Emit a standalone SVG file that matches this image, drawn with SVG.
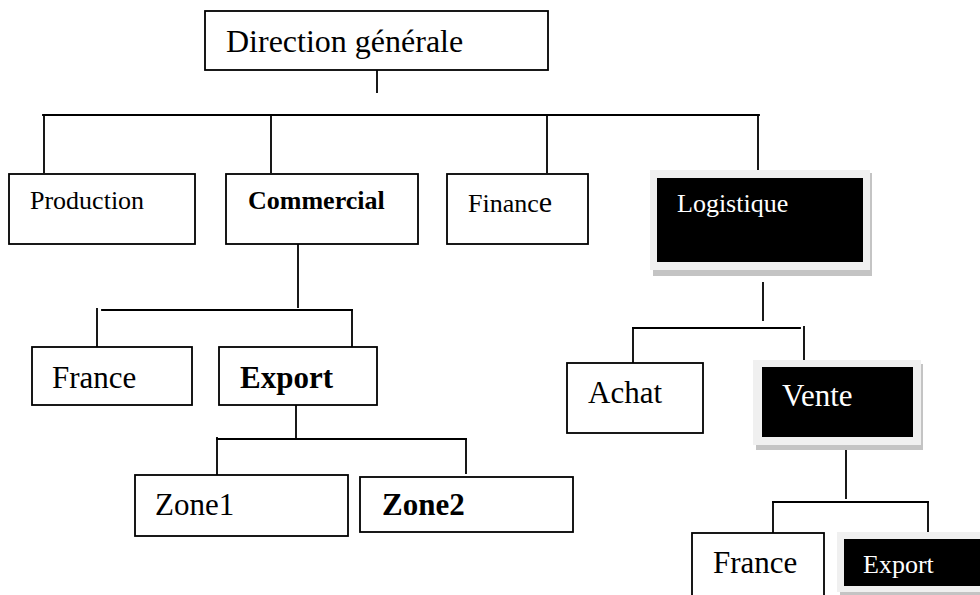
<svg xmlns="http://www.w3.org/2000/svg" width="980" height="595" viewBox="0 0 980 595">
  <style>
    .box { fill: #ffffff; stroke: #000000; stroke-width: 1.8; }
    .frame { fill: #f0f0f0; }
    .shadow { fill: #c4c4c4; }
    .dark { fill: #000000; }
    .line { stroke: #000000; stroke-width: 1.8; fill: none; stroke-linecap: square; }
    text { font-family: "Liberation Serif", "Times New Roman", serif; fill: #000000; }
    .lt { fill: #ffffff; }
    .b { font-weight: bold; }
    .s25 { font-size: 26px; }
    .s31 { font-size: 31px; }
  </style>

  <!-- connectors -->
  <g id="connectors">
    <!-- Direction générale to first level -->
    <path class="line" d="M377 71 V92"/>
    <path class="line" d="M43 115 H759"/>
    <path class="line" d="M44 115 V172 M271 115 V172 M547 115 V172 M758 115 V171"/>
    <!-- Commercial to France / Export -->
    <path class="line" d="M298 245 V307"/>
    <path class="line" d="M102 310 H352"/>
    <path class="line" d="M97 309 V346 M352 310 V346"/>
    <!-- Export to Zone1 / Zone2 -->
    <path class="line" d="M296 406 V437"/>
    <path class="line" d="M217 439 H466"/>
    <path class="line" d="M217 438 V474 M466 439 V473"/>
    <!-- Logistique to Achat / Vente -->
    <path class="line" d="M763 283 V320"/>
    <path class="line" d="M633 328 H800"/>
    <path class="line" d="M633 328 V362 M804 327 V363"/>
    <!-- Vente to France / Export -->
    <path class="line" d="M846 449 V498"/>
    <path class="line" d="M773 502 H928"/>
    <path class="line" d="M773 502 V532 M928 502 V532"/>
  </g>

  <g id="direction">
    <rect class="box" x="205" y="11" width="343" height="59"/>
    <text x="226" y="52" font-size="32">Direction générale</text>
  </g>

  <g id="production">
    <rect class="box" x="9" y="174" width="186" height="70"/>
    <text class="s25" x="30" y="209">Production</text>
  </g>

  <g id="commercial">
    <rect class="box" x="226" y="174" width="192" height="70"/>
    <text class="s25 b" x="248" y="209">Commercial</text>
  </g>

  <g id="finance">
    <rect class="box" x="447" y="174" width="141" height="70"/>
    <text x="468" y="212"><tspan font-size="26">Financ</tspan><tspan font-size="30">e</tspan></text>
  </g>

  <g id="logistique">
    <rect class="shadow" x="653" y="173" width="219" height="103"/>
    <rect class="frame" x="650" y="170" width="220" height="100"/>
    <rect class="dark" x="657" y="178" width="206" height="84"/>
    <text class="s25 lt" x="677" y="212">Logistique</text>
  </g>

  <g id="france-1">
    <rect class="box" x="32" y="347" width="160" height="58"/>
    <text class="s31" x="52" y="388">France</text>
  </g>

  <g id="export-1">
    <rect class="box" x="219" y="347" width="158" height="58"/>
    <text class="s31 b" x="240" y="388">Export</text>
  </g>

  <g id="zone1">
    <rect class="box" x="135" y="475" width="213" height="61"/>
    <text class="s31" x="155" y="515">Zone1</text>
  </g>

  <g id="zone2">
    <rect class="box" x="360" y="477" width="213" height="55"/>
    <text class="s31 b" x="382" y="515">Zone2</text>
  </g>

  <g id="achat">
    <rect class="box" x="567" y="363" width="136" height="70"/>
    <text class="s31" x="588" y="403">Achat</text>
  </g>

  <g id="vente">
    <rect class="shadow" x="756" y="364" width="167" height="86"/>
    <rect class="frame" x="753" y="360" width="168" height="85"/>
    <rect class="dark" x="762" y="367" width="151" height="70"/>
    <text class="s31 lt" x="782" y="406">Vente</text>
  </g>

  <g id="france-2">
    <rect class="box" x="692" y="533" width="132" height="70"/>
    <text class="s31" x="713" y="573">France</text>
  </g>

  <g id="export-2">
    <rect class="shadow" x="840" y="536" width="150" height="62"/>
    <rect class="frame" x="837" y="532" width="150" height="60"/>
    <rect class="dark" x="844" y="539" width="140" height="47"/>
    <text class="s25 lt" x="863" y="573">Export</text>
  </g>
</svg>
